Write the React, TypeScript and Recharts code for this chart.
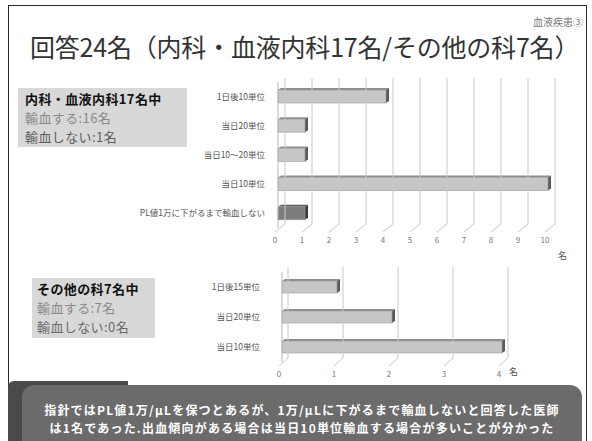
import React from 'react';
import { BarChart, Bar, XAxis, YAxis } from 'recharts';

const cats1 = ['1日後10単位', '当日20単位', '当日10～20単位', '当日10単位', 'PL値1万に下がるまで輸血しない'];
const vals1 = [4, 1, 1, 10, 1];
const ticks1 = [0, 1, 2, 3, 4, 5, 6, 7, 8, 9, 10];

const cats2 = ['1日後15単位', '当日20単位', '当日10単位'];
const vals2 = [1, 2, 4];
const ticks2 = [0, 1, 2, 3, 4];

const unitLabel = '名';
const titleText = '回答24名（内科・血液内科17名/その他の科7名）';
const tagText = '血液疾患③';
const box1Lines = ['内科・血液内科17名中', '輸血する:16名', '輸血しない:1名'];
const box2Lines = ['その他の科7名中', '輸血する:7名', '輸血しない:0名'];
const footLines = [
  '指針ではPL値1万/μLを保つとあるが、1万/μLに下がるまで輸血しないと回答した医師',
  'は1名であった.出血傾向がある場合は当日10単位輸血する場合が多いことが分かった',
];

const data1 = cats1.map((name, i) => ({ name, value: vals1[i] }));
const data2 = cats2.map((name, i) => ({ name, value: vals2[i] }));

const FONT = '"Noto Sans CJK JP", "Noto Sans", sans-serif';

function makeXTick(top: number, depth: number) {
  return (props: any) => {
    const { x, y, payload } = props;
    return (
      <g>
        <line x1={x + depth} y1={top} x2={x + depth} y2={y - 4} stroke="#c8c8c8" strokeWidth={1} />
        <line x1={x - 3} y1={y + 4} x2={x + depth} y2={y - 4} stroke="#c8c8c8" strokeWidth={1} />
        <text x={x - 3} y={y + 15} textAnchor="middle" fontSize={8} fill="#777" fontFamily={FONT}>
          {payload.value}
        </text>
      </g>
    );
  };
}

function YTick(props: any) {
  const { x, y, payload } = props;
  return (
    <text x={x} y={y} dy="0.35em" textAnchor="end" fontSize={8.5} fill="#555" fontFamily={FONT}>
      {payload.value}
    </text>
  );
}

function Bar3D(props: any) {
  const { x, y, width, height, dark } = props;
  if (width <= 0) return null;
  const d = 3;
  const e = 2;
  const front = dark ? '#7c7c7c' : '#c6c6c6';
  const top = dark ? '#5c5c5c' : '#8e8e8e';
  const side = dark ? '#3c3c3c' : '#5a5a5a';
  return (
    <g>
      <polygon points={`${x},${y} ${x + d},${y - e} ${x + width + d},${y - e} ${x + width},${y}`} fill={top} />
      <polygon
        points={`${x + width},${y} ${x + width + d},${y - e} ${x + width + d},${y + height - e} ${x + width},${y + height}`}
        fill={side}
      />
      <rect x={x} y={y} width={width} height={height} fill={front} stroke="#9a9a9a" strokeWidth={0.6} />
    </g>
  );
}

const boxStyle: React.CSSProperties = {
  position: 'absolute',
  background: '#d8d8d8',
  fontFamily: FONT,
  fontSize: 13,
  lineHeight: '19px',
  padding: '1px 7px',
  boxSizing: 'border-box',
  whiteSpace: 'nowrap',
  letterSpacing: 0.4,
};

export default function App() {
  return (
    <div style={{ position: 'absolute', left: 0, top: 0, width: 592, height: 441, background: '#fff', overflow: 'hidden' }}>
      {/* frame */}
      <div style={{ position: 'absolute', left: 8, top: 5, width: 579, height: 440, border: '1.5px solid #2a2a2a', borderBottom: 'none', boxSizing: 'border-box' }} />
      {/* tag and title */}
      <div style={{ position: 'absolute', right: 9, top: 15, fontFamily: FONT, fontSize: 10, color: '#777', lineHeight: '14px' }}>{tagText}</div>
      <div style={{ position: 'absolute', left: 30, top: 31, fontFamily: FONT, fontSize: 25, color: '#333', lineHeight: '30px', whiteSpace: 'nowrap', letterSpacing: -0.2 }}>{titleText}</div>

      {/* info boxes */}
      <div style={{ ...boxStyle, left: 18, top: 88, width: 169, height: 59 }}>
        <div style={{ fontWeight: 'bold', color: '#111' }}>{box1Lines[0]}</div>
        <div style={{ color: '#8a8a8a' }}>{box1Lines[1]}</div>
        <div style={{ color: '#5e5e5e' }}>{box1Lines[2]}</div>
      </div>
      <div style={{ ...boxStyle, left: 32, top: 278, width: 123, height: 60, padding: '1px 5px' }}>
        <div style={{ fontWeight: 'bold', color: '#111' }}>{box2Lines[0]}</div>
        <div style={{ color: '#8a8a8a' }}>{box2Lines[1]}</div>
        <div style={{ color: '#6a6a6a' }}>{box2Lines[2]}</div>
      </div>

      {/* chart 1 */}
      <div style={{ position: 'absolute', left: 0, top: 0 }}>
        <BarChart width={592} height={272} data={data1} layout="vertical" margin={{ top: 82, right: 44, bottom: 24, left: 0 }}>
          <XAxis
            type="number"
            domain={[0, 10]}
            ticks={ticks1}
            interval={0}
            height={20}
            tickSize={0}
            tickMargin={0}
            axisLine={false}
            tickLine={false}
            tick={makeXTick(78, 7)}
            label={{ value: unitLabel, position: 'right', offset: 10, dy: 18, fontSize: 9, fill: '#555', fontFamily: FONT }}
          />
          <YAxis
            type="category"
            dataKey="name"
            width={278}
            tickSize={0}
            tickMargin={13}
            tickLine={false}
            axisLine={{ stroke: '#b8b8b8' }}
            tick={<YTick />}
            interval={0}
          />
          <Bar dataKey="value" barSize={13} isAnimationActive={false} shape={(p: any) => <Bar3D {...p} dark={p.index === cats1.length - 1} />} />
        </BarChart>
      </div>

      {/* chart 2 */}
      <div style={{ position: 'absolute', left: 0, top: 0 }}>
        <BarChart width={592} height={400} data={data2} layout="vertical" margin={{ top: 272, right: 90, bottom: 18, left: 0 }}>
          <XAxis
            type="number"
            domain={[0, 4]}
            ticks={ticks2}
            interval={0}
            height={20}
            tickSize={0}
            tickMargin={0}
            axisLine={false}
            tickLine={false}
            tick={makeXTick(267, 6)}
            label={{ value: unitLabel, position: 'right', offset: 7, dy: 0, fontSize: 9, fill: '#555', fontFamily: FONT }}
          />
          <YAxis
            type="category"
            dataKey="name"
            width={282}
            tickSize={0}
            tickMargin={22}
            tickLine={false}
            axisLine={{ stroke: '#b8b8b8' }}
            tick={<YTick />}
            interval={0}
          />
          <Bar dataKey="value" barSize={12} isAnimationActive={false} shape={(p: any) => <Bar3D {...p} dark={false} />} />
        </BarChart>
      </div>

      {/* footer */}
      <div style={{ position: 'absolute', left: 8, top: 381, width: 120, height: 60, background: '#4a4a4a', borderTopLeftRadius: 6 }} />
      <div style={{ position: 'absolute', left: 22, top: 385, width: 560, height: 70, background: '#6b6b6b', borderRadius: 12 }} />
      <div style={{ position: 'absolute', left: 22, top: 401, width: 560, textAlign: 'center', fontFamily: FONT, fontSize: 12, fontWeight: 'bold', color: '#fff', lineHeight: '17.5px', whiteSpace: 'nowrap', letterSpacing: 1.2 }}>
        <div>{footLines[0]}</div>
        <div>{footLines[1]}</div>
      </div>
    </div>
  );
}
